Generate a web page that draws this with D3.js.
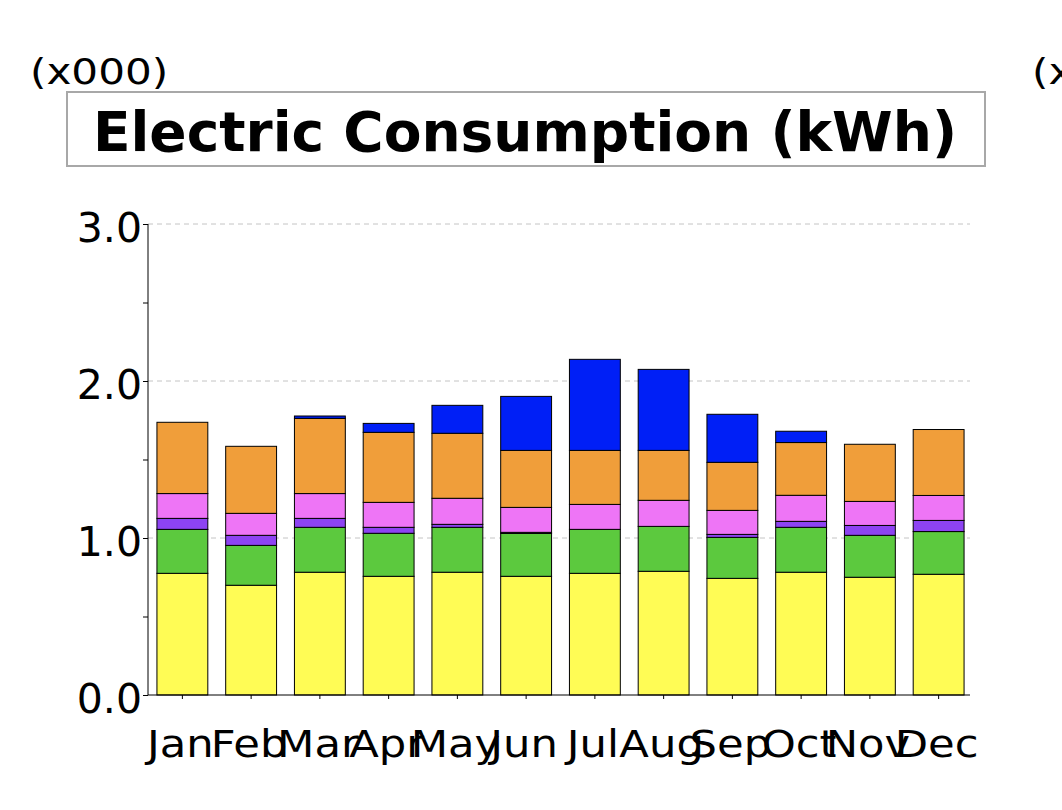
<!DOCTYPE html>
<html>
<head>
<meta charset="utf-8">
<script src="https://cdn.jsdelivr.net/npm/d3@7"></script>
<style>
  body { margin: 0; background: #fff; overflow: hidden; }
  text { font-family: "DejaVu Sans", Verdana, sans-serif; }
</style>
</head>
<body>
<div id="chart"></div>
<script>
var svgWidth = 1062;
var svgHeight = 810;

var margin = {top: 224, right: 92, bottom: 115, left: 148};

var chartWidth = svgWidth - margin.left - margin.right;
var chartHeight = svgHeight - margin.top - margin.bottom;

// data (values in thousands of kWh)
var months = ["Jan","Feb","Mar","Apr","May","Jun","Jul","Aug","Sep","Oct","Nov","Dec"];
var seriesNames = ["yellow","green","purple","pink","orange","blue"];
var seriesColors = ["#fffc55","#5cc93e","#8d43f2","#ee75f6","#f09e3a","#001ff6"];
var yellowVals = [0.775, 0.699, 0.782, 0.756, 0.782, 0.756, 0.775, 0.788, 0.743, 0.782, 0.750, 0.769];
var greenVals  = [0.280, 0.254, 0.286, 0.274, 0.286, 0.273, 0.280, 0.286, 0.261, 0.286, 0.267, 0.272];
var purpleVals = [0.070, 0.064, 0.057, 0.038, 0.019, 0.007, 0.000, 0.000, 0.019, 0.038, 0.063, 0.071];
var pinkVals   = [0.158, 0.140, 0.158, 0.159, 0.166, 0.159, 0.159, 0.166, 0.153, 0.166, 0.153, 0.159];
var orangeVals = [0.454, 0.427, 0.479, 0.446, 0.414, 0.363, 0.344, 0.318, 0.306, 0.336, 0.364, 0.420];
var blueVals   = [0.000, 0.000, 0.015, 0.057, 0.178, 0.344, 0.580, 0.516, 0.306, 0.072, 0.000, 0.000];
var yTicks = [0, 1, 2, 3];
var yMinorTicks = [0, 0.5, 1, 1.5, 2, 2.5, 3];

var allVals = [yellowVals, greenVals, purpleVals, pinkVals, orangeVals, blueVals];
var table = months.map(function(m, i) {
    var row = {month: m};
    seriesNames.forEach(function(s, j) { row[s] = allVals[j][i]; });
    return row;
});

// widen DejaVu a bit so it looks like the Verdana in the original
function stretch(sel, k) {
    sel.each(function() {
        var w = this.getComputedTextLength();
        d3.select(this).attr("textLength", w * k).attr("lengthAdjust", "spacingAndGlyphs");
    });
}

var svg = d3.select("#chart").append("svg")
            .attr("width", svgWidth)
            .attr("height", svgHeight);

// unit labels
svg.append("text")
    .attr("x", 30).attr("y", 84)
    .attr("font-size", 36)
    .text("(x000)")
    .call(stretch, 1.17);
svg.append("text")
    .attr("x", 1032).attr("y", 84)
    .attr("font-size", 36)
    .text("(x")
    .call(stretch, 1.17);

// title box
svg.append("rect")
    .attr("x", 67).attr("y", 92)
    .attr("width", 918).attr("height", 74)
    .attr("fill", "#fff")
    .attr("stroke", "#a8a8a8")
    .attr("stroke-width", 2);
svg.append("text")
    .attr("x", 525).attr("y", 151)
    .attr("text-anchor", "middle")
    .attr("font-size", 55)
    .attr("font-weight", "bold")
    .text("Electric Consumption (kWh)");

var chartGroup = svg.append("g")
    .attr("transform", `translate(${margin.left}, ${margin.top})`);

var xScale = d3.scaleBand()
    .domain(months)
    .range([0, 825])
    .paddingInner(0.26)
    .paddingOuter(0.13);

var yScale = d3.scaleLinear()
    .domain([0, 3])
    .range([chartHeight, 0]);

// gridlines
chartGroup.append("g").selectAll("line")
    .data(yTicks.slice(1))
    .enter()
    .append("line")
    .attr("x1", 0).attr("x2", 822)
    .attr("y1", d => yScale(d)).attr("y2", d => yScale(d))
    .attr("stroke", "#c4c4c4")
    .attr("stroke-dasharray", "5,4");

// stacked bars
var stack = d3.stack().keys(seriesNames);
var layers = stack(table);

chartGroup.append("g").selectAll("g")
    .data(layers)
    .enter()
    .append("g")
    .attr("fill", (d, i) => seriesColors[i])
    .selectAll("rect")
    .data(d => d.filter(p => p[1] - p[0] > 0))
    .enter()
    .append("rect")
    .attr("x", d => xScale(d.data.month))
    .attr("width", xScale.bandwidth())
    .attr("y", d => yScale(d[1]))
    .attr("height", d => yScale(d[0]) - yScale(d[1]))
    .attr("stroke", "#000")
    .attr("stroke-width", 1);

// y axis
var yAxis = d3.axisLeft(yScale).tickValues(yMinorTicks).tickSize(5).tickFormat("");
var yg = chartGroup.append("g").call(yAxis);
yg.select(".domain").attr("d", `M0,0V${chartHeight}`);
yg.append("g").selectAll("text")
    .data(yTicks)
    .enter()
    .append("text")
    .attr("x", -6)
    .attr("y", d => yScale(d) + 18)
    .attr("text-anchor", "end")
    .attr("font-size", 41)
    .attr("fill", "#000")
    .text(d => d3.format(".1f")(d));

// x axis
var xAxis = d3.axisBottom(xScale).tickSize(4).tickSizeOuter(0);
var xg = chartGroup.append("g")
    .attr("transform", `translate(0, ${chartHeight})`)
    .call(xAxis);
xg.select(".domain").attr("d", "M0,0H822");
xg.selectAll(".tick text")
    .attr("y", 62)
    .attr("dy", 0)
    .attr("x", -2)
    .attr("font-size", 37)
    .attr("font-family", "DejaVu Sans")
    .call(stretch, 1.17);
</script>
</body>
</html>
